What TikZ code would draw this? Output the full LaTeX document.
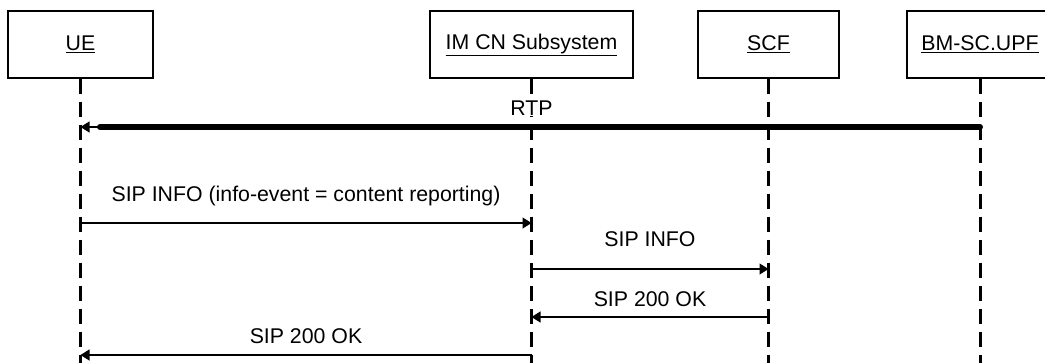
\documentclass[tikz,border=0pt]{standalone}
\usepackage{fontspec}
\setmainfont{Liberation Sans}
\usetikzlibrary{arrows.meta,positioning}

\begin{document}
\begin{tikzpicture}[
    x=1pt,
    y=-1pt,
    font=\fontsize{21.3}{25}\selectfont,
    entity node/.style={rectangle,draw,line width=1.3pt,minimum height=67pt,inner sep=0pt},
    lifeline/.style={line width=3pt,dash pattern=on 15pt off 8pt},
    msg/.style={line width=1.2pt,-{Triangle[length=9pt,width=11pt]}},
    rtp line/.style={line width=6pt,line cap=round},
    msg label/.style={anchor=base,inner sep=0pt}
]
\clip (0,0) rectangle (1045,362);

% Entities
\node[entity node, minimum width=145pt] (ue) at (80.5,44.5) {\underline{UE}};
\node[entity node, minimum width=203pt] (imcn) at (531.5,44.5) {\underline{IM CN Subsystem}};
\node[entity node, minimum width=141pt] (scf) at (768.5,44.5) {\underline{SCF}};
\node[entity node, minimum width=146pt] (bmsc) at (980,44.5) {\underline{BM-SC.UPF}};

% Lifelines
\coordinate (bottom) at (0,366);
\draw[lifeline] (ue.south) -- (ue.south |- bottom);
\draw[lifeline] (imcn.south) -- (imcn.south |- bottom);
\draw[lifeline] (scf.south) -- (scf.south |- bottom);
\draw[lifeline] (bmsc.south) -- (bmsc.south |- bottom);

% Message rows
\coordinate (row1) at (0,127);
\coordinate (row2) at (0,223);
\coordinate (row3) at (0,269);
\coordinate (row4) at (0,317);
\coordinate (row5) at (0,355);
\coordinate (rtp end) at (100,127);

% RTP
\draw[rtp line] (bmsc |- row1) -- (rtp end);
\draw[msg] (rtp end) -- (ue |- row1);
\node[msg label, fill=white, inner sep=1pt] (rtp) at ([yshift=12pt]imcn |- row1) {RTP};

% SIP messages
\draw[msg] (ue |- row2) -- node[msg label, yshift=22pt] {SIP INFO (info-event = content reporting)} (imcn |- row2);
\draw[msg] (imcn |- row3) -- node[msg label, yshift=23pt] {SIP INFO} (scf |- row3);
\draw[msg] (scf |- row4) -- node[msg label, yshift=11pt] {SIP 200 OK} (imcn |- row4);
\draw[msg] (imcn |- row5) -- node[msg label, yshift=12pt] {SIP 200 OK} (ue |- row5);

\end{tikzpicture}
\end{document}
